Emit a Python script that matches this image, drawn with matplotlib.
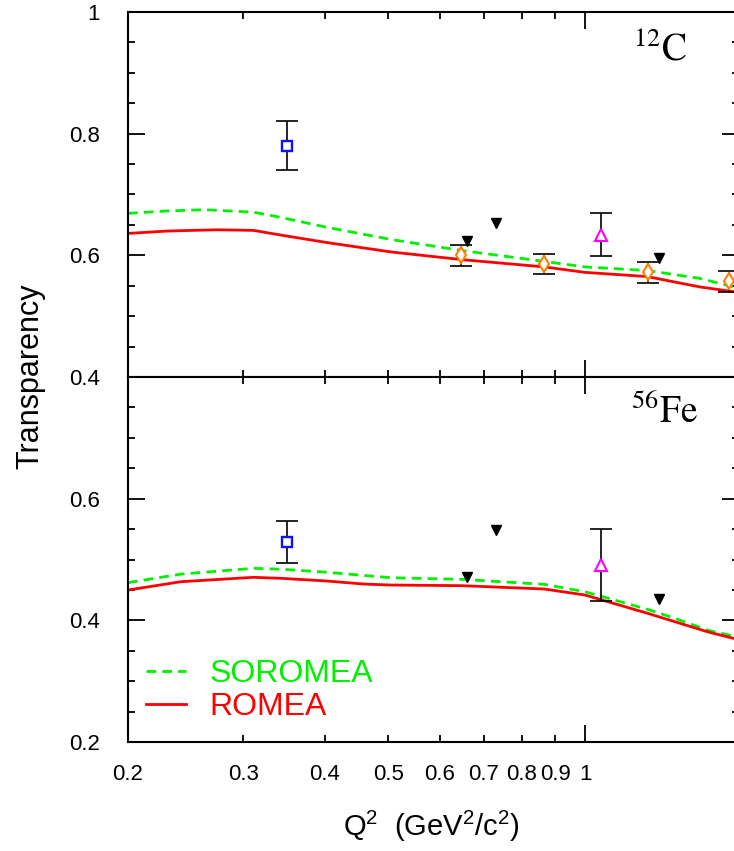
import matplotlib
matplotlib.use('Agg')
import matplotlib.pyplot as plt

plt.rcParams['font.family'] = ['Liberation Sans', 'DejaVu Sans']
plt.rcParams['mathtext.fontset'] = 'custom'
plt.rcParams['mathtext.rm'] = 'Liberation Sans'
plt.rcParams['mathtext.it'] = 'Liberation Sans:italic'
plt.rcParams['mathtext.bf'] = 'Liberation Sans:bold'

# ---- 12C panel ----
c_sorom_x = [0.2, 0.23, 0.262, 0.311, 0.344, 0.403, 0.5055, 0.647, 0.866, 1.0, 1.247, 1.5, 1.72]
c_sorom_y = [0.669, 0.673, 0.675, 0.671, 0.662, 0.646, 0.626, 0.608, 0.590, 0.581, 0.575, 0.562, 0.546]
c_romea_x = [0.2, 0.23, 0.274, 0.311, 0.344, 0.403, 0.5055, 0.647, 0.866, 1.0, 1.247, 1.373, 1.5, 1.72]
c_romea_y = [0.636, 0.640, 0.642, 0.641, 0.633, 0.621, 0.6055, 0.593, 0.581, 0.572, 0.565, 0.556, 0.548, 0.539]

c_sq_x, c_sq_y, c_sq_err = [0.35], [0.78], [0.04]
c_dia_x = [0.647, 0.866, 1.247, 1.66]
c_dia_y = [0.600, 0.586, 0.572, 0.557]
c_dia_err = [0.017, 0.017, 0.017, 0.017]
c_tri_x, c_tri_y, c_tri_err = [1.059], [0.634], [0.035]
c_down_x = [0.659, 0.731, 1.298]
c_down_y = [0.624, 0.653, 0.595]

# ---- 56Fe panel ----
f_sorom_x = [0.2, 0.241, 0.311, 0.344, 0.403, 0.5055, 0.647, 0.866, 1.0, 1.247, 1.373, 1.538, 1.72]
f_sorom_y = [0.462, 0.476, 0.4855, 0.484, 0.479, 0.470, 0.4674, 0.4592, 0.447, 0.418, 0.4033, 0.384, 0.372]
f_romea_x = [0.2, 0.241, 0.311, 0.344, 0.403, 0.458, 0.5055, 0.647, 0.866, 1.0, 1.247, 1.538, 1.72]
f_romea_y = [0.4498, 0.4635, 0.4707, 0.469, 0.4646, 0.4597, 0.458, 0.457, 0.4515, 0.4416, 0.4115, 0.3813, 0.368]

f_sq_x, f_sq_y, f_sq_err = [0.35], [0.529], [0.035]
f_tri_x, f_tri_y, f_tri_err = [1.059], [0.491], [0.059]
f_down_x = [0.659, 0.731, 1.298]
f_down_y = [0.472, 0.5485, 0.4345]

xtick_vals = [0.2, 0.3, 0.4, 0.5, 0.6, 0.7, 0.8, 0.9, 1]
xtick_labels = ['0.2', '0.3', '0.4', '0.5', '0.6', '0.7', '0.8', '0.9', '1']

W, H = 734, 851
fig = plt.figure(figsize=(W / 100, H / 100), dpi=100)
left = 128 / W
width = 739 / W - left
ax_c = fig.add_axes([left, 1 - 377 / H, width, 365 / H])
ax_f = fig.add_axes([left, 1 - 742 / H, width, 365 / H])

green = '#00f000'
red = '#ff0000'
dash = (3.5, 2.2)


def style_axes(ax, ylim, yticks, ylabels, show_x):
    ax.set_xscale('log')
    ax.set_xlim(0.2, 1.72)
    ax.set_ylim(*ylim)
    for s in ax.spines.values():
        s.set_linewidth(1.5)
    ax.set_xticks([1])
    ax.set_xticks(xtick_vals[:-1], minor=True)
    if show_x:
        ax.set_xticklabels(['1'])
        ax.set_xticklabels(xtick_labels[:-1], minor=True)
    else:
        ax.set_xticklabels([])
        ax.set_xticklabels([], minor=True)
    ax.set_yticks(yticks)
    ax.set_yticklabels(ylabels)
    n = int(round((ylim[1] - ylim[0]) / 0.05))
    minors = [ylim[0] + 0.05 * i for i in range(1, n) if i % 4 != 0]
    ax.set_yticks(minors, minor=True)
    ax.tick_params(which='both', direction='in', top=True, right=True, width=1.3, colors='black')
    ax.tick_params(which='major', length=12)
    ax.tick_params(which='minor', length=5)
    ax.tick_params(axis='y', which='both', pad=20, labelsize=16)
    ax.tick_params(axis='x', which='both', pad=16, labelsize=16)


def draw_panel(ax, sx, sy, rx, ry):
    ax.plot(sx, sy, color=green, lw=2, dashes=dash, label='SOROMEA')
    ax.plot(rx, ry, color=red, lw=2, label='ROMEA')


draw_panel(ax_c, c_sorom_x, c_sorom_y, c_romea_x, c_romea_y)
draw_panel(ax_f, f_sorom_x, f_sorom_y, f_romea_x, f_romea_y)

eb = dict(fmt='none', ecolor='black', elinewidth=1.2, capsize=8, capthick=1.2, zorder=3)

# 12C points
ax_c.errorbar(c_sq_x, c_sq_y, yerr=c_sq_err, **eb)
ax_c.plot(c_sq_x, c_sq_y, 's', ms=6.5, mfc='white', mec='#1010ff', mew=1.7, zorder=4)
ax_c.errorbar(c_dia_x, c_dia_y, yerr=c_dia_err, **eb)
ax_c.plot(c_dia_x, c_dia_y, 'd', ms=8, mfc='white', mec='#ff8000', mew=1.5, zorder=4)
ax_c.errorbar(c_tri_x, c_tri_y, yerr=c_tri_err, **eb)
ax_c.plot(c_tri_x, c_tri_y, '^', ms=9, mfc='white', mec='#ff00ff', mew=1.5, zorder=4)
ax_c.plot(c_down_x, c_down_y, 'v', ms=7.5, color='black', zorder=4)

# 56Fe points
ax_f.errorbar(f_sq_x, f_sq_y, yerr=f_sq_err, **eb)
ax_f.plot(f_sq_x, f_sq_y, 's', ms=6.5, mfc='white', mec='#1010ff', mew=1.7, zorder=4)
ax_f.errorbar(f_tri_x, f_tri_y, yerr=f_tri_err, **eb)
ax_f.plot(f_tri_x, f_tri_y, '^', ms=9, mfc='white', mec='#ff00ff', mew=1.5, zorder=4)
ax_f.plot(f_down_x, f_down_y, 'v', ms=7.5, color='black', zorder=4)

style_axes(ax_c, (0.4, 1.0), [0.4, 0.6, 0.8, 1.0], ['0.4', '0.6', '0.8', '1'], False)
style_axes(ax_f, (0.2, 0.8), [0.2, 0.4, 0.6, 0.8], ['0.2', '0.4', '0.6', ''], True)

ax_c.text(0.916, 0.866, r'$^{12}\mathrm{C}$', transform=ax_c.transAxes, ha='right', va='baseline',
          fontsize=27, math_fontfamily='stix')
ax_f.text(0.934, 0.874, r'$^{56}\mathrm{Fe}$', transform=ax_f.transAxes, ha='right', va='baseline',
          fontsize=27, math_fontfamily='stix')

ax_f.legend(loc='lower left', bbox_to_anchor=(0.03, 0.055), frameon=False, fontsize=23,
            handlelength=1.25, handletextpad=0.72, labelspacing=0.1, borderpad=0,
            borderaxespad=0, labelcolor='linecolor')

fig.text(30 / W, 1 - 376 / H, 'Transparency', rotation=90, ha='center', va='center', fontsize=22)
fig.text(431 / W, 1 - 826 / H, r'Q$^2$  (GeV$^2$/c$^2$)', ha='center', va='center', fontsize=21)

fig.savefig('out.png', dpi=100)
